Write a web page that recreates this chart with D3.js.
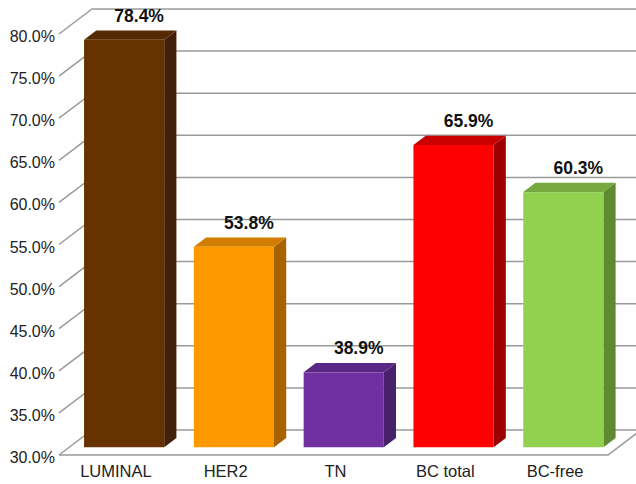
<!DOCTYPE html>
<html>
<head>
<meta charset="utf-8">
<script src="https://cdn.jsdelivr.net/npm/d3@7"></script>
<style>
  html, body { margin: 0; padding: 0; background: #fff; }
  svg { display: block; font-family: "Liberation Sans", Arial, Helvetica, sans-serif; }
</style>
</head>
<body>
<svg id="chart" width="636" height="484"></svg>
<script>
// Share of patients per subgroup (percent)
const categories = ["LUMINAL", "HER2", "TN", "BC total", "BC-free"];
const values = [78.4, 53.8, 38.9, 65.9, 60.3];
const tickValues = [30, 35, 40, 45, 50, 55, 60, 65, 70, 75, 80];
const tickLabels = ["30.0%", "35.0%", "40.0%", "45.0%", "50.0%", "55.0%", "60.0%", "65.0%", "70.0%", "75.0%", "80.0%"];
const frontColors = ["#663300", "#ff9900", "#7030a0", "#ff0000", "#92d050"];
const topColors   = ["#552a03", "#d07d00", "#5b2785", "#c80000", "#76a83f"];
const sideColors  = ["#42200a", "#a86300", "#49206c", "#9c0000", "#5f8a32"];

const svg = d3.select("#chart");

// Front plane of the 3D box
const plotLeft = 59, plotRight = 608;
const depthX = 33, depthY = -25;          // offset from front plane to back wall
const barFront = 0.31, barDepth = 0.37;   // bar position in depth (fractions)

const x = d3.scaleBand().domain(categories).range([plotLeft, plotRight])
  .paddingInner(0.27).paddingOuter(0.135);
const y = d3.scaleLinear().domain([30, 80]).range([455, 34]);

const grid = svg.append("g").attr("stroke", "#9a9a9a").attr("stroke-width", 1.5).attr("fill", "none");

// Gridlines: diagonal on the left wall, horizontal on the back wall
tickValues.forEach(v => {
  const yy = y(v);
  grid.append("path")
    .attr("d", `M${plotLeft},${yy}L${plotLeft + depthX},${yy + depthY}L${plotRight + depthX + 10},${yy + depthY}`);
});
// Floor outline
grid.append("path")
  .attr("d", `M${plotLeft},${y(30)}L${plotRight},${y(30)}L${plotRight + depthX},${y(30) + depthY}`);

// Bars
const f1x = depthX * barFront, f1y = depthY * barFront;
const dx = depthX * barDepth, dy = depthY * barDepth;
const bars = svg.append("g");
categories.forEach((c, i) => {
  const x0 = x(c) + f1x, x1 = x0 + x.bandwidth();
  const yb = y(30) + f1y, yt = y(values[i]) + f1y;
  const g = bars.append("g");
  // side face
  g.append("path").attr("fill", sideColors[i])
    .attr("d", `M${x1},${yt}L${x1 + dx},${yt + dy}L${x1 + dx},${yb + dy}L${x1},${yb}Z`);
  // top face
  g.append("path").attr("fill", topColors[i])
    .attr("d", `M${x0},${yt}L${x0 + dx},${yt + dy}L${x1 + dx},${yt + dy}L${x1},${yt}Z`);
  // front face
  g.append("rect").attr("fill", frontColors[i])
    .attr("x", x0).attr("y", yt).attr("width", x1 - x0).attr("height", yb - yt);
  // value label
  g.append("text")
    .attr("x", (x0 + x1) / 2 + 15).attr("y", yt - 18)
    .attr("text-anchor", "middle").attr("font-size", 17.5).attr("font-weight", "bold")
    .attr("fill", "#111")
    .text(values[i].toFixed(1) + "%");
});

// Value axis labels
svg.append("g").selectAll("text").data(tickValues).join("text")
  .attr("x", 55).attr("y", v => y(v) + 8)
  .attr("text-anchor", "end").attr("font-size", 16).attr("fill", "#222")
  .text((v, i) => tickLabels[i]);

// Category labels
svg.append("g").selectAll("text").data(categories).join("text")
  .attr("x", c => x(c) + x.bandwidth() / 2 + 2).attr("y", 477)
  .attr("text-anchor", "middle").attr("font-size", 16.5).attr("fill", "#222")
  .text(c => c);
</script>
</body>
</html>
